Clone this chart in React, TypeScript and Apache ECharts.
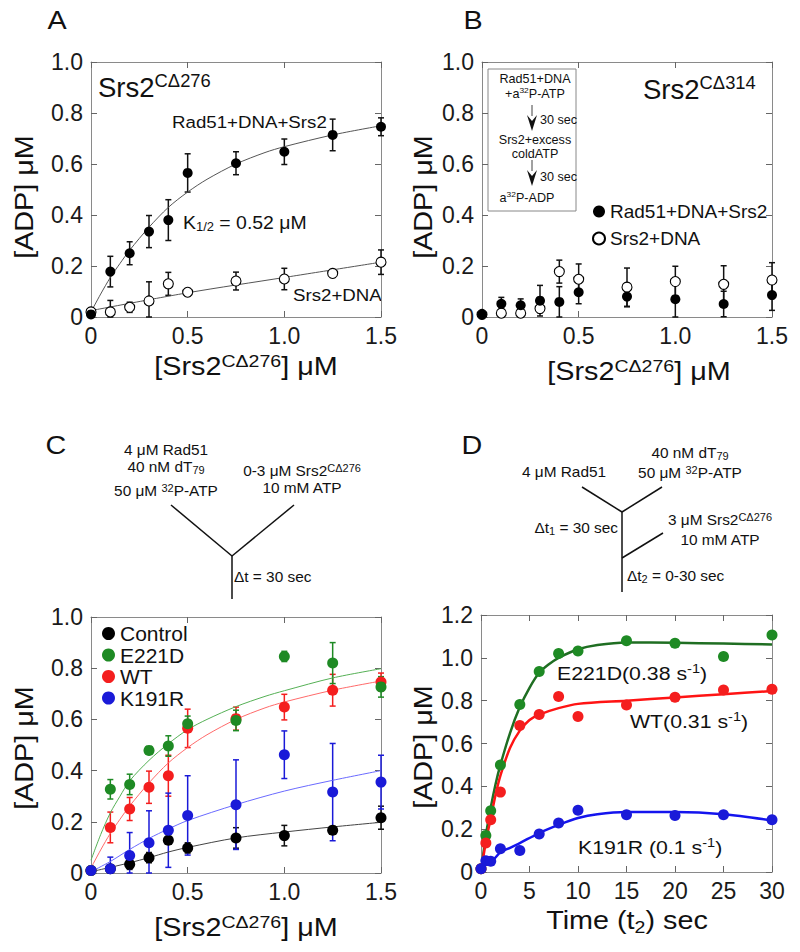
import React, { useEffect, useRef } from 'react';
import * as echarts from 'echarts';

const FF = '"Liberation Sans", Arial, Helvetica, sans-serif';

// ---------- Panel A / B / C : Srs2 concentrations (µM) ----------
const concX = [0, 0.1, 0.2, 0.3, 0.4, 0.5, 0.75, 1.0, 1.25, 1.5];

// Panel A
const aRadY = [0.01, 0.178, 0.25, 0.335, 0.38, 0.565, 0.603, 0.648, 0.714, 0.746];
const aRadErr = [0, 0.06, 0.045, 0.063, 0.08, 0.075, 0.045, 0.05, 0.062, 0.035];
const aDnaY = [0.02, 0.02, 0.038, 0.063, 0.13, 0.097, 0.141, 0.149, 0.171, 0.215];
const aDnaErr = [0, 0.045, 0.02, 0.075, 0.045, 0.013, 0.035, 0.042, 0.013, 0.048];
const aFitX = [0, 0.05, 0.1, 0.15, 0.2, 0.3, 0.4, 0.5, 0.6, 0.75, 0.9, 1.0, 1.25, 1.5];
const aFitY = [0.02, 0.09, 0.155, 0.21, 0.262, 0.352, 0.43, 0.49, 0.54, 0.6, 0.645, 0.668, 0.714, 0.75];
const aDnaFitX = [0, 0.5, 1.0, 1.5];
const aDnaFitY = [0.025, 0.095, 0.155, 0.215];

// Panel B
const bRadY = [0.01, 0.052, 0.046, 0.064, 0.059, 0.097, 0.08, 0.07, 0.051, 0.086];
const bRadErr = [0.01, 0.025, 0.025, 0.06, 0.06, 0.045, 0.04, 0.07, 0.05, 0.06];
const bDnaY = [0.01, 0.015, 0.015, 0.033, 0.178, 0.148, 0.117, 0.139, 0.128, 0.145];
const bDnaErr = [0, 0.015, 0.015, 0.015, 0.045, 0.06, 0.075, 0.06, 0.073, 0.068];

// Panel C
const cCtlY = [0.01, 0.017, 0.034, 0.06, 0.128, 0.098, 0.137, 0.146, 0.167, 0.216];
const cCtlErr = [0, 0.01, 0.02, 0.02, 0.015, 0.02, 0.04, 0.04, 0.015, 0.045];
const cE221DY = [0.01, 0.327, 0.346, 0.479, 0.496, 0.583, 0.596, 0.846, 0.82, 0.727];
const cE221DErr = [0, 0.038, 0.04, 0.015, 0.04, 0.03, 0.04, 0.02, 0.08, 0.04];
const cWTY = aRadY;
const cWTErr = aRadErr;
const cK191RY = [0.01, 0.017, 0.068, 0.118, 0.167, 0.225, 0.267, 0.462, 0.316, 0.355];
const cK191RErr = [0, 0.045, 0.09, 0.125, 0.145, 0.155, 0.175, 0.093, 0.19, 0.105];
const cCtlFitX = [0, 0.1, 0.2, 0.3, 0.4, 0.5, 0.75, 1.0, 1.25, 1.5];
const cCtlFitY = [0.005, 0.022, 0.04, 0.06, 0.082, 0.1, 0.137, 0.16, 0.18, 0.198];
const cE221DFitX = [0, 0.05, 0.1, 0.15, 0.2, 0.3, 0.4, 0.5, 0.6, 0.75, 0.9, 1.0, 1.25, 1.5];
const cE221DFitY = [0.05, 0.15, 0.235, 0.3, 0.36, 0.44, 0.505, 0.56, 0.6, 0.65, 0.69, 0.712, 0.762, 0.798];
const cK191RFitX = [0, 0.1, 0.2, 0.3, 0.4, 0.5, 0.75, 1.0, 1.25, 1.5];
const cK191RFitY = [0.005, 0.045, 0.092, 0.135, 0.172, 0.205, 0.267, 0.32, 0.362, 0.4];

// Panel D : time course (sec)
const dT = [0, 0.5, 1, 2, 4, 6, 8, 10, 15, 20, 25, 30];
const dE221DY = [0.015, 0.171, 0.286, 0.5, 0.782, 0.936, 1.02, 1.032, 1.08, 1.068, 1.006, 1.107];
const dWTY = [0.015, 0.135, 0.244, 0.373, 0.684, 0.735, 0.819, 0.726, 0.78, 0.816, 0.85, 0.853];
const dK191RY = [0.015, 0.053, 0.05, 0.109, 0.1, 0.177, 0.229, 0.288, 0.267, 0.264, 0.267, 0.244];
const dE221DFitX = [0, 0.5, 1, 1.5, 2, 3, 4, 5, 6, 7, 8, 10, 12, 15, 20, 25, 30];
const dE221DFitY = [0, 0.17, 0.3, 0.41, 0.5, 0.65, 0.77, 0.86, 0.93, 0.97, 1.0, 1.04, 1.06, 1.072, 1.07, 1.067, 1.062];
const dWTFitX = [0, 0.5, 1, 1.5, 2, 3, 4, 5, 6, 8, 10, 15, 20, 25, 30];
const dWTFitY = [0, 0.14, 0.25, 0.36, 0.45, 0.58, 0.66, 0.71, 0.735, 0.765, 0.785, 0.8, 0.815, 0.83, 0.845];
const dK191RFitX = [0, 0.4, 1.2, 2, 3, 4, 6, 8, 10, 12, 15, 20, 25, 30];
const dK191RFitY = [0.015, 0.05, 0.055, 0.092, 0.113, 0.135, 0.182, 0.22, 0.252, 0.27, 0.28, 0.28, 0.27, 0.241];

// Axis ticks
const concTicks = { min: 0, max: 1.5, interval: 0.5 };
const adpTicks = { min: 0, max: 1.0, interval: 0.2 };
const timeTicks = { min: 0, max: 30, interval: 5 };
const adpDTicks = { min: 0, max: 1.2, interval: 0.2 };

const pairs = (xs: number[], ys: number[]) => xs.map((x, i) => [x, ys[i]]);
const triples = (xs: number[], ys: number[], es: number[]) => xs.map((x, i) => [x, ys[i], es[i]]);

const GREEN = '#1e8a24';
const RED = '#f41e1e';
const BLUE = '#1a1ad8';

function errSeries(idx: number, data: number[][], color: string, lw = 1.5) {
  return {
    type: 'custom',
    xAxisIndex: idx,
    yAxisIndex: idx,
    data,
    z: 2,
    silent: true,
    renderItem: (params: any, api: any) => {
      const x = api.value(0);
      const y = api.value(1);
      const e = api.value(2);
      if (!e) return { type: 'group', children: [] };
      const t = api.coord([x, y + e]);
      const b = api.coord([x, Math.max(y - e, 0)]);
      const w = 3;
      const st = { stroke: color, lineWidth: lw };
      return {
        type: 'group',
        children: [
          { type: 'line', shape: { x1: t[0], y1: t[1], x2: b[0], y2: b[1] }, style: st },
          { type: 'line', shape: { x1: t[0] - w, y1: t[1], x2: t[0] + w, y2: t[1] }, style: st },
          { type: 'line', shape: { x1: b[0] - w, y1: b[1], x2: b[0] + w, y2: b[1] }, style: st },
        ],
      };
    },
  };
}

function fitSeries(idx: number, data: number[][], color: string, width: number) {
  return {
    type: 'line',
    xAxisIndex: idx,
    yAxisIndex: idx,
    data,
    smooth: 0.3,
    symbol: 'none',
    silent: true,
    lineStyle: { color, width },
    z: 3,
  };
}

function dotSeries(idx: number, name: string, data: number[][], color: string, size: number, open = false) {
  return {
    type: 'scatter',
    name,
    xAxisIndex: idx,
    yAxisIndex: idx,
    data,
    symbol: 'circle',
    symbolSize: size,
    itemStyle: open
      ? { color: '#ffffff', borderColor: '#000', borderWidth: 1.1, opacity: 1 }
      : { color, borderWidth: 0, opacity: 1 },
    z: 4,
  };
}

const fmt1 = (v: number) => (v === 0 ? '0' : v.toFixed(1));

function mainX(grid: number, t: any, formatter: any) {
  return {
    type: 'value',
    gridIndex: grid,
    position: 'bottom',
    ...t,
    axisLine: { show: true, lineStyle: { color: '#8a8a8a', width: 1 } },
    axisTick: { show: true, inside: true, length: 6, lineStyle: { color: '#666' } },
    splitLine: { show: false },
    axisLabel: { formatter, fontFamily: FF, fontSize: 23, color: '#1a1a1a', margin: 7 },
  };
}
function mirrorX(grid: number, t: any) {
  return {
    type: 'value',
    gridIndex: grid,
    position: 'top',
    ...t,
    axisLine: { show: true, onZero: false, lineStyle: { color: '#8a8a8a', width: 1 } },
    axisTick: { show: true, inside: true, length: 6, lineStyle: { color: '#666' } },
    splitLine: { show: false },
    axisLabel: { show: false },
  };
}
function mainY(grid: number, t: any) {
  return {
    type: 'value',
    gridIndex: grid,
    position: 'left',
    ...t,
    axisLine: { show: true, lineStyle: { color: '#8a8a8a', width: 1 } },
    axisTick: { show: true, inside: true, length: 6, lineStyle: { color: '#666' } },
    splitLine: { show: false },
    axisLabel: { formatter: fmt1, fontFamily: FF, fontSize: 23, color: '#1a1a1a', margin: 8 },
  };
}
function mirrorY(grid: number, t: any) {
  return {
    type: 'value',
    gridIndex: grid,
    position: 'right',
    ...t,
    axisLine: { show: true, onZero: false, lineStyle: { color: '#8a8a8a', width: 1 } },
    axisTick: { show: true, inside: true, length: 6, lineStyle: { color: '#666' } },
    splitLine: { show: false },
    axisLabel: { show: false },
  };
}

// ---------- graphic helpers ----------
function rich(fs: number) {
  const big = { fontSize: fs, fontFamily: FF, fill: '#111', lineHeight: Math.round(fs * 1.15) };
  const small = {
    fontSize: Math.round(fs * 0.68),
    fontFamily: FF,
    fill: '#111',
    lineHeight: Math.round(fs * 0.6),
    verticalAlign: 'top',
  };
  const lower = {
    fontSize: Math.round(fs * 0.68),
    fontFamily: FF,
    fill: '#111',
    lineHeight: Math.round(fs * 0.6),
    verticalAlign: 'bottom',
  };
  return { m: big, s: small, b: lower };
}

function txt(x: number, y: number, text: string, fs: number, align = 'center', sx = 1, rot = 0) {
  return {
    type: 'text',
    x,
    y,
    rotation: rot,
    scaleX: sx,
    silent: true,
    style: {
      text,
      rich: rich(fs),
      align,
      verticalAlign: 'middle',
      fill: '#111',
      fontFamily: FF,
      fontSize: fs,
    },
  };
}

function seg(x1: number, y1: number, x2: number, y2: number, lw = 1.5) {
  return { type: 'line', silent: true, shape: { x1, y1, x2, y2 }, style: { stroke: '#111', lineWidth: lw } };
}

function arrowHead(cx: number, top: number) {
  return {
    type: 'polygon',
    silent: true,
    shape: { points: [[cx - 5, top], [cx, top + 6], [cx + 5, top], [cx, top + 16]] },
    style: { fill: '#111' },
  };
}

const graphics: any[] = [
  // panel letters
  txt(57, 21, '{m|A}', 25, 'center', 1.15),
  txt(473, 21, '{m|B}', 25, 'center', 1.15),
  txt(56, 446, '{m|C}', 25, 'center', 1.15),
  txt(472, 446, '{m|D}', 25, 'center', 1.15),

  // axis titles
  txt(25, 197, '{m|[ADP] μM}', 25, 'center', 1.15, Math.PI / 2),
  txt(424, 197, '{m|[ADP] μM}', 25, 'center', 1.15, Math.PI / 2),
  txt(25, 748, '{m|[ADP] μM}', 25, 'center', 1.15, Math.PI / 2),
  txt(424, 747, '{m|[ADP] μM}', 25, 'center', 1.15, Math.PI / 2),
  txt(246, 367, '{m|[Srs2}{s|CΔ276}{m|] μM}', 25, 'center', 1.15),
  txt(639, 372, '{m|[Srs2}{s|CΔ276}{m|] μM}', 25, 'center', 1.15),
  txt(246, 928, '{m|[Srs2}{s|CΔ276}{m|] μM}', 25, 'center', 1.15),
  txt(627, 921, '{m|Time (t}{b|2}{m|) sec}', 25, 'center', 1.15),

  // panel A annotations
  txt(98, 88, '{m|Srs2}{s|CΔ276}', 27, 'left', 1.02),
  txt(172, 122, '{m|Rad51+DNA+Srs2}', 17, 'left', 1.1),
  txt(183, 223, '{m|K}{b|1/2}{m| = 0.52 μM}', 18, 'left', 1.08),
  txt(293, 295, '{m|Srs2+DNA}', 17, 'left', 1.1),

  // panel B annotations
  txt(643, 90, '{m|Srs2}{s|CΔ314}', 27, 'left', 1.02),
  {
    type: 'rect',
    silent: true,
    shape: { x: 488, y: 69, width: 88, height: 142 },
    style: { fill: 'none', stroke: '#888', lineWidth: 1 },
  },
  txt(535, 79, '{m|Rad51+DNA}', 12, 'center', 1.05),
  txt(535, 94, '{m|+a}{s|32}{m|P-ATP}', 12, 'center', 1.05),
  seg(532, 105, 532, 116, 0.8),
  arrowHead(532, 115),
  txt(540, 120, '{m|30 sec}', 12, 'left', 1.05),
  txt(535, 140, '{m|Srs2+excess}', 12, 'center', 1.05),
  txt(535, 154, '{m|coldATP}', 12, 'center', 1.05),
  seg(532, 160, 532, 171, 0.8),
  arrowHead(532, 170),
  txt(540, 177, '{m|30 sec}', 12, 'left', 1.05),
  txt(527, 198, '{m|a}{s|32}{m|P-ADP}', 12, 'center', 1.05),

  // panel C diagram
  txt(166, 450, '{m|4 μM Rad51}', 14, 'center', 1.1),
  txt(166, 467, '{m|40 nM dT}{b|79}', 14, 'center', 1.1),
  txt(166, 491, '{m|50 μM }{s|32}{m|P-ATP}', 14, 'center', 1.1),
  txt(302, 471, '{m|0-3 μM Srs2}{s|CΔ276}', 14, 'center', 1.1),
  txt(302, 488, '{m|10 mM ATP}', 14, 'center', 1.1),
  seg(171, 505, 232, 556),
  seg(294, 505, 232, 556),
  seg(232, 556, 232, 599),
  txt(234, 577, '{m|Δt = 30 sec}', 14, 'left', 1.1),

  // panel D diagram
  txt(690, 453, '{m|40 nM dT}{b|79}', 14, 'center', 1.1),
  txt(690, 473, '{m|50 μM }{s|32}{m|P-ATP}', 14, 'center', 1.1),
  txt(564, 472, '{m|4 μM Rad51}', 14, 'center', 1.1),
  seg(582, 487, 622, 512),
  seg(662, 487, 622, 512),
  seg(622, 512, 622, 592),
  seg(622, 558, 663, 533),
  txt(618, 528, '{m|Δt}{b|1}{m| = 30 sec}', 14, 'right', 1.1),
  txt(720, 520, '{m|3 μM Srs2}{s|CΔ276}', 14, 'center', 1.1),
  txt(720, 540, '{m|10 mM ATP}', 14, 'center', 1.1),
  txt(627, 576, '{m|Δt}{b|2}{m| = 0-30 sec}', 14, 'left', 1.1),

  // panel D annotations
  txt(557, 673, '{m|E221D(0.38 s}{s|-1}{m|)}', 19, 'left', 1.12),
  txt(630, 721, '{m|WT(0.31 s}{s|-1}{m|)}', 19, 'left', 1.12),
  txt(578, 847, '{m|K191R (0.1 s}{s|-1}{m|)}', 19, 'left', 1.12),
];

export default function App() {
  const ref = useRef<HTMLDivElement>(null);

  useEffect(() => {
    document.body.style.margin = '0';
    if (!ref.current) return;
    const chart = echarts.init(ref.current, undefined, { renderer: 'svg' });

    const option: any = {
      animation: false,
      backgroundColor: '#ffffff',
      grid: [
        { left: 91, top: 62, width: 290, height: 255 },
        { left: 482, top: 62, width: 290, height: 255 },
        { left: 91, top: 617, width: 290, height: 256 },
        { left: 481, top: 615, width: 291, height: 257 },
      ],
      xAxis: [
        mainX(0, concTicks, fmt1),
        mainX(1, concTicks, fmt1),
        mainX(2, concTicks, fmt1),
        mainX(3, timeTicks, (v: number) => String(v)),
        mirrorX(0, concTicks),
        mirrorX(1, concTicks),
        mirrorX(2, concTicks),
        mirrorX(3, timeTicks),
      ],
      yAxis: [
        mainY(0, adpTicks),
        mainY(1, adpTicks),
        mainY(2, adpTicks),
        mainY(3, adpDTicks),
        mirrorY(0, adpTicks),
        mirrorY(1, adpTicks),
        mirrorY(2, adpTicks),
        mirrorY(3, adpDTicks),
      ],
      legend: [
        {
          data: ['Rad51+DNA+Srs2', 'Srs2+DNA'],
          orient: 'vertical',
          left: 592,
          top: 202,
          padding: 0,
          itemWidth: 12,
          itemHeight: 12,
          itemGap: 8,
          icon: 'circle',
          selectedMode: false,
          textStyle: { fontFamily: FF, fontSize: 19, lineHeight: 19, color: '#111' },
        },
        {
          data: ['Control', 'E221D', 'WT', 'K191R'],
          orient: 'vertical',
          left: 102,
          top: 623,
          padding: 0,
          itemWidth: 13,
          itemHeight: 13,
          itemGap: 0.5,
          icon: 'circle',
          selectedMode: false,
          textStyle: { fontFamily: FF, fontSize: 21, lineHeight: 20, color: '#111' },
        },
      ],
      series: [
        // Panel A
        errSeries(0, triples(concX, aRadY, aRadErr), '#111'),
        errSeries(0, triples(concX, aDnaY, aDnaErr), '#111'),
        fitSeries(0, pairs(aFitX, aFitY), '#555', 1),
        fitSeries(0, pairs(aDnaFitX, aDnaFitY), '#555', 1),
        dotSeries(0, 'A Srs2+DNA', pairs(concX, aDnaY), '#000', 10, true),
        dotSeries(0, 'A Rad51+DNA+Srs2', pairs(concX, aRadY), '#000', 10),

        // Panel B
        errSeries(1, triples(concX, bRadY, bRadErr), '#111'),
        errSeries(1, triples(concX, bDnaY, bDnaErr), '#111'),
        dotSeries(1, 'Srs2+DNA', pairs(concX, bDnaY), '#000', 10, true),
        dotSeries(1, 'Rad51+DNA+Srs2', pairs(concX, bRadY), '#000', 10),

        // Panel C
        errSeries(2, triples(concX, cCtlY, cCtlErr), '#111'),
        errSeries(2, triples(concX, cWTY, cWTErr), RED),
        errSeries(2, triples(concX, cE221DY, cE221DErr), GREEN),
        errSeries(2, triples(concX, cK191RY, cK191RErr), BLUE),
        fitSeries(2, pairs(cCtlFitX, cCtlFitY), '#444', 1),
        fitSeries(2, pairs(aFitX, aFitY), '#ff6a6a', 1),
        fitSeries(2, pairs(cE221DFitX, cE221DFitY), '#55b055', 1),
        fitSeries(2, pairs(cK191RFitX, cK191RFitY), '#6a6aff', 1),
        dotSeries(2, 'Control', pairs(concX, cCtlY), '#000', 11),
        dotSeries(2, 'WT', pairs(concX, cWTY), RED, 11),
        dotSeries(2, 'E221D', pairs(concX, cE221DY), GREEN, 11),
        dotSeries(2, 'K191R', pairs(concX, cK191RY), BLUE, 11),

        // Panel D
        fitSeries(3, pairs(dE221DFitX, dE221DFitY), '#1f6e22', 2.5),
        fitSeries(3, pairs(dWTFitX, dWTFitY), '#ff1414', 2.5),
        fitSeries(3, pairs(dK191RFitX, dK191RFitY), '#1414ee', 2.5),
        dotSeries(3, 'D E221D', pairs(dT, dE221DY), GREEN, 11),
        dotSeries(3, 'D WT', pairs(dT, dWTY), RED, 11),
        dotSeries(3, 'D K191R', pairs(dT, dK191RY), BLUE, 11),
      ],
      graphic: graphics,
    };

    chart.setOption(option);
    return () => chart.dispose();
  }, []);

  return <div ref={ref} style={{ width: 800, height: 952 }} />;
}
